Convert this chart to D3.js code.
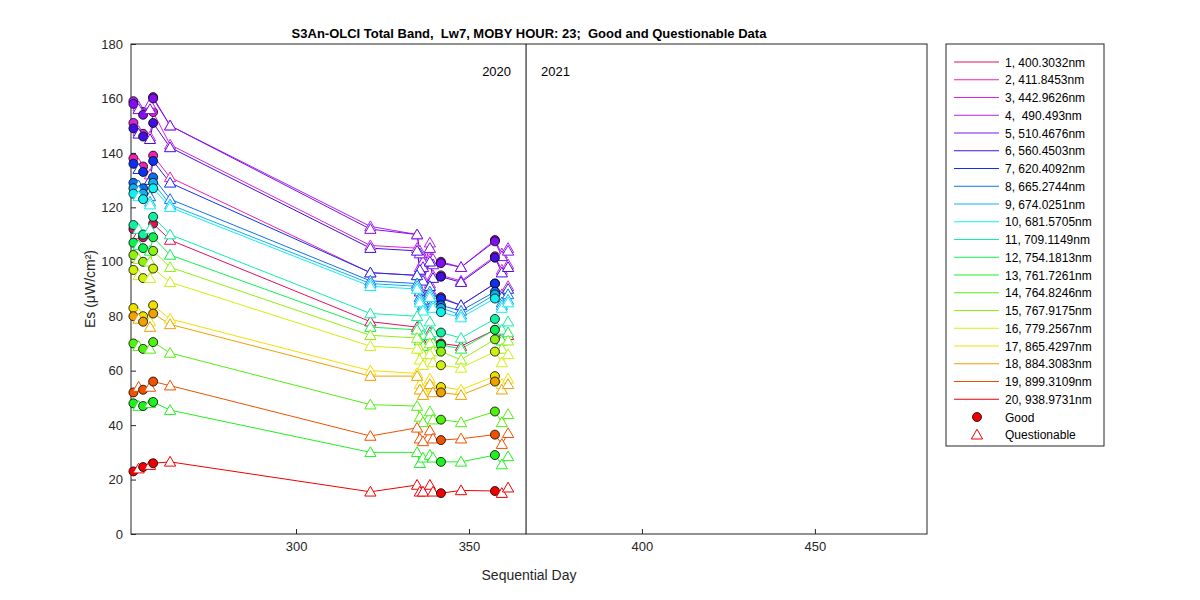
<!DOCTYPE html>
<html><head><meta charset="utf-8">
<script src="https://cdn.jsdelivr.net/npm/d3@7"></script>
<style>body{margin:0;background:#fff}text{font-family:"Liberation Sans",Arial,sans-serif;white-space:pre}</style>
</head><body><svg id="chart" width="1200" height="600"></svg>
<script>
const days = [253, 254.5, 255.8, 257.8, 258.7, 263.6, 321.5, 335, 335.8, 336.7, 338.7, 339.6, 341.9, 347.7, 357.5, 359.5, 361.3];
const flags = ["G","Q","G","Q","G","Q","Q","Q","Q","Q","Q","Q","G","Q","G","Q","Q"];
const bands = ["1, 400.3032nm","2, 411.8453nm","3, 442.9626nm","4,  490.493nm","5, 510.4676nm","6, 560.4503nm","7, 620.4092nm","8, 665.2744nm","9, 674.0251nm","10, 681.5705nm","11, 709.1149nm","12, 754.1813nm","13, 761.7261nm","14, 764.8246nm","15, 767.9175nm","16, 779.2567nm","17, 865.4297nm","18, 884.3083nm","19, 899.3109nm","20, 938.9731nm"];
const colors = ["#e0105a","#f020b0","#e020e0","#b020f0","#8010f0","#4010e0","#1030f0","#1070f0","#10b0f0","#10f0f0","#10f0a0","#10f050","#20f020","#50f010","#90f010","#d0f010","#f0e000","#f0a000","#f05000","#f00000"];
const es = [
  [112,110,109,111,114,108,78,76,72,70,74,71,70,69,75,72,73],
  [138,136,135,132,139,131,96,95,90,87,92,88,87,84,92,88,91],
  [151,148,147,146,155,143,106,105,98,94,101,95,95,93,102,97,99],
  [159,157,155,158,160.5,150,113,110,104,100,107,101,100,98,108,103,105],
  [158,156,154,156,160,150,112,110,103,98,105,99,99.5,98,107.5,102,104],
  [149,147,146,145,151,142,105,104,97,93,100,94,94.5,92.5,101.5,96,98],
  [136,134,133,130,137,129,96,95,89,86,91,87,86.5,84,92,87,90],
  [129,128,127,124,131,123,93,92,87,84,89,85,84,82,89,85,88],
  [127,126,125,122,129,121,92,91,86,83,88,84,83,80.5,88,84,86],
  [125,124,123,121,127,120,91,90,85,82,87,83,81.5,79.5,86.5,83,85],
  [113.5,112,110,112,116.5,110,81,80,76,73,78,74,74,72,79,75,78],
  [107,106,105,104,109,102.5,76,75,71,69,73,70,69.5,68,75,71,74],
  [48,47,47,48,48.5,45.5,30,30,26,28,29,28,26.5,26.5,29,25.5,28.5],
  [70,69,68,68,70.5,66.5,47.5,47,43,41,45,42,42,41,45,41,44],
  [102.5,101,100,100,104,98,73,72,68,66,70,67,67,64,71.5,68,71],
  [97,95,94,94,97.5,92.5,69,68,64,62,66,63,62,61,67,63,66],
  [83,81,80,78,84,79,60,59,55,53,57,54,54,53,58,55,57],
  [80,79,78,76,81,77,58,58,53,51,55,52,52,51,56,53,55],
  [52,54,53,54,56,54.5,36,39,35,34,38,35,34.5,35,36.5,33,37],
  [23,24,24.6,25.3,26,26.5,15.5,18,15.5,15.5,18,15.5,15,16,15.8,15,17]
];
const yearSplit = 366.5;

const svg = d3.select("#chart");
const margin = {top: 44, right: 273, bottom: 66, left: 131};
const width = 1200 - margin.left - margin.right;
const height = 600 - margin.top - margin.bottom;
const g = svg.append("g").attr("transform", `translate(${margin.left},${margin.top})`);

const x = d3.scaleLinear().domain([252.3, 482.4]).range([0, width]);
const y = d3.scaleLinear().domain([0, 180]).range([height, 0]);

g.append("rect").attr("width", width).attr("height", height).attr("fill", "none").attr("stroke", "#262626");

const xAxis = g.append("g").attr("transform", `translate(0,${height})`)
  .call(d3.axisBottom(x).tickValues([300, 350, 400, 450]).tickSize(-5).tickPadding(8));
const yAxis = g.append("g").call(d3.axisLeft(y).ticks(9).tickSize(-5).tickPadding(8));
[xAxis, yAxis].forEach(a => {
  a.select(".domain").remove();
  a.selectAll("line").attr("stroke", "#262626");
  a.selectAll("text").attr("fill", "#262626").style("font-size", "13px");
});

g.append("line").attr("x1", x(yearSplit)).attr("x2", x(yearSplit)).attr("y1", 0).attr("y2", height).attr("stroke", "#000");
g.append("text").attr("x", x(yearSplit) - 15).attr("y", 32).attr("text-anchor", "end").style("font-size", "13px").text("2020");
g.append("text").attr("x", x(yearSplit) + 15).attr("y", 32).style("font-size", "13px").text("2021");

const line = d3.line().x((d, i) => x(days[i])).y(d => y(d));
es.forEach((s, k) => {
  g.append("path").datum(s).attr("fill", "none").attr("stroke", colors[k]).attr("stroke-width", 1).attr("d", line);
});
const tri = d3.symbol().type(d3.symbolTriangle).size(55);
es.forEach((s, k) => {
  s.forEach((v, i) => {
    if (flags[i] === "G") {
      g.append("circle").attr("cx", x(days[i])).attr("cy", y(v)).attr("r", 4.5)
        .attr("fill", colors[k]).attr("stroke", "#000").attr("stroke-width", 0.8);
    } else {
      g.append("path").attr("d", tri).attr("transform", `translate(${x(days[i])},${y(v) + 1})`)
        .attr("fill", "#fff").attr("stroke", colors[k]).attr("stroke-width", 1);
    }
  });
});

svg.append("text").attr("x", margin.left + width / 2).attr("y", 38).attr("text-anchor", "middle")
  .style("font-size", "13px").style("font-weight", "bold")
  .text("S3An-OLCI Total Band,  Lw7, MOBY HOUR: 23;  Good and Questionable Data");
svg.append("text").attr("x", margin.left + width / 2).attr("y", 580).attr("text-anchor", "middle")
  .style("font-size", "14px").attr("fill", "#262626").text("Sequential Day");
svg.append("text").attr("transform", `translate(95,${margin.top + height / 2}) rotate(-90)`).attr("text-anchor", "middle")
  .style("font-size", "14px").attr("fill", "#262626").text("Es (μW/cm²)");

const lg = svg.append("g").attr("transform", "translate(946,44)");
lg.append("rect").attr("width", 158).attr("height", 402).attr("fill", "#fff").attr("stroke", "#262626");
bands.forEach((b, k) => {
  const yy = 18 + k * 17.75;
  lg.append("line").attr("x1", 8).attr("x2", 53).attr("y1", yy).attr("y2", yy).attr("stroke", colors[k]);
  lg.append("text").attr("x", 59).attr("y", yy + 4.5).style("font-size", "12px").text(b);
});
const gy = 18 + 20 * 17.75;
lg.append("circle").attr("cx", 31).attr("cy", gy).attr("r", 4.5).attr("fill", "#f00000").attr("stroke", "#000").attr("stroke-width", 0.8);
lg.append("text").attr("x", 59).attr("y", gy + 4.5).style("font-size", "12px").text("Good");
lg.append("path").attr("d", tri).attr("transform", `translate(31,${gy + 18.75})`).attr("fill", "#fff").attr("stroke", "#f00000");
lg.append("text").attr("x", 59).attr("y", gy + 17.75 + 4.5).style("font-size", "12px").text("Questionable");
</script></body></html>
